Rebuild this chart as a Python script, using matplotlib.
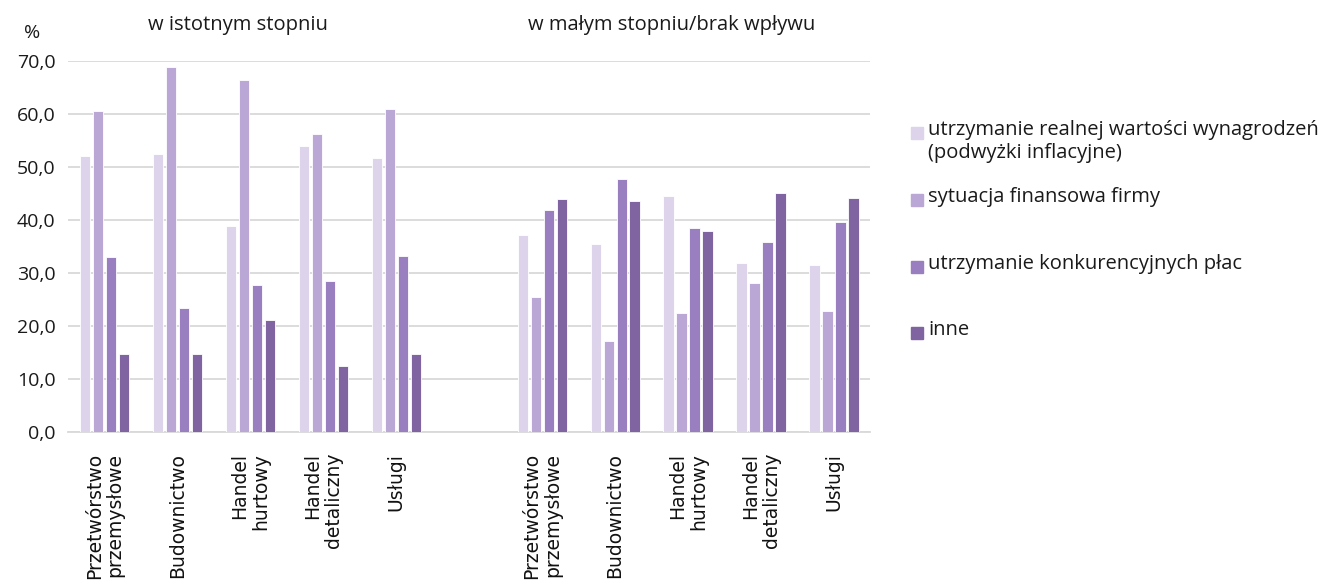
import matplotlib
matplotlib.use("Agg")
import matplotlib.pyplot as plt
from matplotlib.patches import Rectangle
import numpy as np

# Data
# ---------------------------------------------
categories = ["Przetwórstwo\nprzemysłowe", "Budownictwo", "Handel\nhurtowy",
              "Handel\ndetaliczny", "Usługi"]
group_titles = ["w istotnym stopniu", "w małym stopniu/brak wpływu"]
series_names = ["utrzymanie realnej wartości wynagrodzeń\n(podwyżki inflacyjne)",
                "sytuacja finansowa firmy",
                "utrzymanie konkurencyjnych płac",
                "inne"]

# w istotnym stopniu
realna_1 = [52.1, 52.5, 38.9, 54.0, 51.8]
finanse_1 = [60.6, 69.0, 66.5, 56.2, 60.9]
konkur_1 = [33.1, 23.5, 27.7, 28.5, 33.2]
inne_1 = [14.8, 14.8, 21.1, 12.5, 14.7]

# w małym stopniu / brak wpływu
realna_2 = [37.2, 35.4, 44.5, 31.9, 31.5]
finanse_2 = [25.5, 17.1, 22.5, 28.1, 22.8]
konkur_2 = [41.9, 47.7, 38.5, 35.8, 39.6]
inne_2 = [43.9, 43.7, 38.0, 45.1, 44.2]

colors = ["#ddd3ea", "#baa7d5", "#9a7fc0", "#8064a2"]
text_font = ["Open Sans", "DejaVu Sans"]

# Plot
# ---------------------------------------------
fig = plt.figure(figsize=(13.33, 5.83), dpi=100)
ax = fig.add_axes([0.051, 0.259, 0.602, 0.636])

pos1 = np.arange(5)
pos2 = np.arange(5) + 6
series_1 = [realna_1, finanse_1, konkur_1, inne_1]
series_2 = [realna_2, finanse_2, konkur_2, inne_2]

step = 0.178
width = 0.14
for i in range(4):
    off = (i - 1.5) * step
    ax.bar(pos1 + off, series_1[i], width, color=colors[i], edgecolor="white",
           linewidth=0.6, zorder=3)
    ax.bar(pos2 + off, series_2[i], width, color=colors[i], edgecolor="white",
           linewidth=0.6, zorder=3)

ax.set_xlim(-0.5, 10.5)
ax.set_ylim(0, 70)
ax.set_yticks(np.arange(0, 71, 10))
ax.set_yticklabels([f"{v:.1f}".replace(".", ",") for v in np.arange(0, 71, 10)],
                   family=text_font, fontsize=14, color="#1a1a1a")
ax.tick_params(axis="y", length=0, pad=9)
ax.grid(axis="y", color="#d9d9d9", linewidth=1.3, zorder=0)

ax.set_xticks(list(pos1) + list(pos2))
ax.set_xticklabels(categories + categories, rotation=90, ma="right",
                   fontsize=13.5, family="DejaVu Sans", color="#111111",
                   linespacing=1.1)
ax.tick_params(axis="x", length=0, pad=15)

for s in ["top", "right", "left"]:
    ax.spines[s].set_visible(False)
ax.spines["bottom"].set_color("#d9d9d9")
ax.spines["bottom"].set_linewidth(1.3)

# group titles and unit
fig.text(238 / 1333, 1 - 25 / 583, group_titles[0], ha="center", va="center",
         family=text_font, fontsize=14.5, color="#1a1a1a")
fig.text(672 / 1333, 1 - 25 / 583, group_titles[1], ha="center", va="center",
         family=text_font, fontsize=14.5, color="#1a1a1a")
fig.text(32 / 1333, 1 - 33 / 583, "%", ha="center", va="center",
         family=text_font, fontsize=14, color="#1a1a1a")

# legend
leg_y = [133, 200, 267, 333]
for i in range(4):
    y = 1 - leg_y[i] / 583
    fig.patches.append(Rectangle((911 / 1333, y - 6 / 583), 12 / 1333, 12 / 583,
                                 transform=fig.transFigure, color=colors[i]))
    fig.text(928 / 1333, y + 13 / 583, series_names[i], ha="left", va="top",
             family=text_font, fontsize=14.5, color="#1a1a1a", linespacing=1.2)

fig.savefig("out.png", dpi=100)
